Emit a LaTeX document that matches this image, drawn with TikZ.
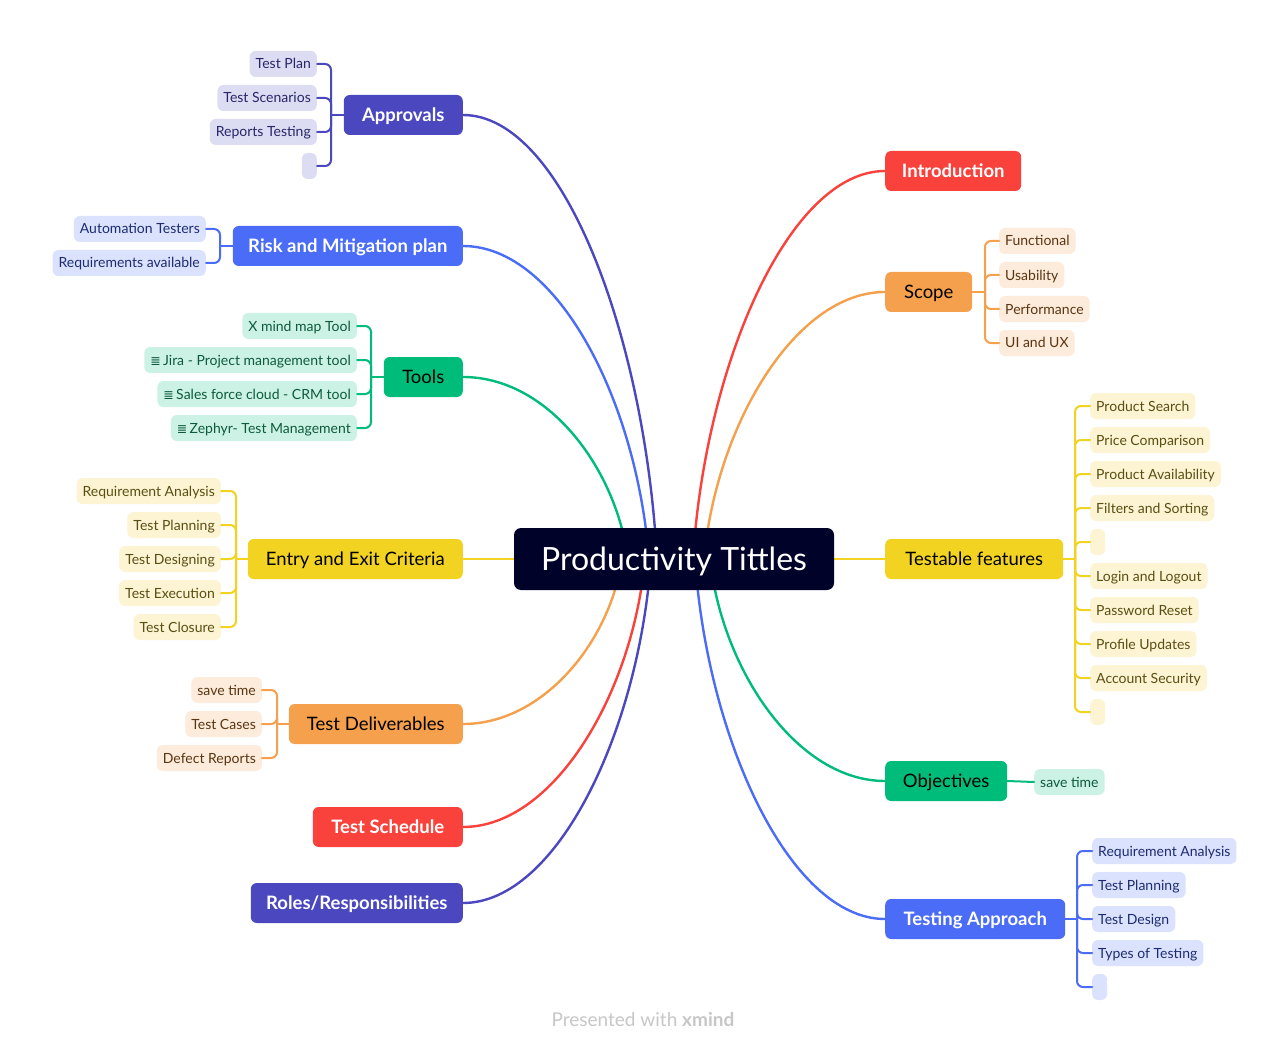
\documentclass[tikz,border=0pt]{standalone}
\usepackage{fontspec}
\setmainfont{Lato}
\newfontfamily\symfont{DejaVu Sans}
\usetikzlibrary{positioning,backgrounds}
\definecolor{cIndigo}{HTML}{4B48BF}
\definecolor{cBlue}{HTML}{4A6CF7}
\definecolor{cGreen}{HTML}{00BC7B}
\definecolor{cYellow}{HTML}{F2D322}
\definecolor{cOrange}{HTML}{F5A04C}
\definecolor{cRed}{HTML}{FA423C}
\definecolor{cCentral}{HTML}{000229}
\definecolor{indigoL}{HTML}{DCDCF2}
\definecolor{blueL}{HTML}{DBE2FD}
\definecolor{greenL}{HTML}{CCF2E5}
\definecolor{yellowL}{HTML}{FCF4D2}
\definecolor{orangeL}{HTML}{FDEBDB}
\definecolor{indigoD}{HTML}{27266A}
\definecolor{blueD}{HTML}{1D2C72}
\definecolor{greenD}{HTML}{0D5A3D}
\definecolor{yellowD}{HTML}{5B4E14}
\definecolor{orangeD}{HTML}{5A3612}
\newcommand\eqlist{{\symfont\fontsize{12.5}{12}\selectfont ≣}\,}
\begin{document}
\begin{tikzpicture}[x=1pt, y=-1pt, line join=round, line cap=round,
    topic/.style={rounded corners=6, minimum height=40, inner xsep=8, inner ysep=0,
      text height=13.3, text depth=0, font=\fontsize{18.5}{20}\selectfont},
    darktopic/.style={topic, text=black},
    whitetopic/.style={topic, text=white, font=\fontsize{18.5}{20}\selectfont\bfseries},
    leaf/.style={rounded corners=6, minimum height=26, minimum width=15, inner xsep=6, inner ysep=0,
      text height=10, text depth=0, font=\fontsize{14}{16}\selectfont},
    lIndigo/.style={leaf, fill=indigoL, text=indigoD},
    lBlue/.style={leaf, fill=blueL, text=blueD},
    lGreen/.style={leaf, fill=greenL, text=greenD},
    lYellow/.style={leaf, fill=yellowL, text=yellowD},
    lOrange/.style={leaf, fill=orangeL, text=orangeD},
    curve/.style={line width=2.4},
    brace/.style={line width=2, rounded corners=6}]
  \useasboundingbox (0,0) rectangle (1286,1051);

  \node[fill=cCentral, text=white, rounded corners=7, minimum width=320, minimum height=62,
        text height=23, text depth=0, font=\fontsize{32}{36}\selectfont] (cen) at (674,559) {Productivity Tittles};

  % left side
  \node[whitetopic, fill=cIndigo, anchor=east, minimum width=119] (app) at (463,115) {Approvals};
  \node[whitetopic, fill=cBlue, anchor=east, minimum width=230] (risk) at (463,246) {Risk and Mitigation plan};
  \node[darktopic, fill=cGreen, anchor=east, minimum width=79] (tools) at (463,377) {Tools};
  \node[darktopic, fill=cYellow, anchor=east, minimum width=215] (entry) at (463,559) {Entry and Exit Criteria};
  \node[darktopic, fill=cOrange, anchor=east, minimum width=174] (deliv) at (463,724) {Test Deliverables};
  \node[whitetopic, fill=cRed, anchor=east, minimum width=150] (sched) at (463,827) {Test Schedule};
  \node[whitetopic, fill=cIndigo, anchor=east, minimum width=212] (roles) at (463,903) {Roles/Responsibilities};

  % right side
  \node[whitetopic, fill=cRed, anchor=west, minimum width=136] (intro) at (885,171) {Introduction};
  \node[darktopic, fill=cOrange, anchor=west, minimum width=87] (scope) at (885,292) {Scope};
  \node[darktopic, fill=cYellow, anchor=west, minimum width=178] (feat) at (885,559) {Testable features};
  \node[darktopic, fill=cGreen, anchor=west, minimum width=122] (obj) at (885,781) {Objectives};
  \node[whitetopic, fill=cBlue, anchor=west, minimum width=180] (appr) at (885,919) {Testing Approach};

  % leaves
  \foreach \t [count=\i] in {Test Plan, Test Scenarios, Reports Testing, {}}
    \node[lIndigo, anchor=east] (ap\i) at (317,{30+34*\i}) {\t};
  \foreach \t [count=\i] in {Automation Testers, Requirements available}
    \node[lBlue, anchor=east] (ri\i) at (206,{195+34*\i}) {\t};
  \foreach \t [count=\i] in {X mind map Tool, \eqlist Jira - Project management tool,
      \eqlist Sales force cloud - CRM tool, \eqlist Zephyr- Test Management}
    \node[lGreen, anchor=east] (to\i) at (357,{292+34*\i}) {\t};
  \foreach \t [count=\i] in {Requirement Analysis, Test Planning, Test Designing, Test Execution, Test Closure}
    \node[lYellow, anchor=east] (en\i) at (221,{457+34*\i}) {\t};
  \foreach \t [count=\i] in {save time, Test Cases, Defect Reports}
    \node[lOrange, anchor=east] (de\i) at (262,{656+34*\i}) {\t};
  \foreach \t [count=\i] in {Functional, Usability, Performance, UI and UX}
    \node[lOrange, anchor=west] (sc\i) at (999,{207+34*\i}) {\t};
  \foreach \t [count=\i] in {Product Search, Price Comparison, Product Availability, Filters and Sorting, {},
      Login and Logout, Password Reset, Profile Updates, Account Security, {}}
    \node[lYellow, anchor=west] (fe\i) at (1090,{372+34*\i}) {\t};
  \node[lGreen, anchor=west] (ob1) at (1034,782) {save time};
  \foreach \t [count=\i] in {Requirement Analysis, Test Planning, Test Design, Types of Testing, {}}
    \node[lBlue, anchor=west] (ta\i) at (1092,{817+34*\i}) {\t};

  \node[text=black!22, font=\fontsize{19}{22}\selectfont] (foot) at (643,1020) {Presented with \textbf{xmind}};

  % spines
  \coordinate (apS) at (331,115);
  \coordinate (riS) at (220,246);
  \coordinate (toS) at (371,377);
  \coordinate (enS) at (236,559);
  \coordinate (deS) at (277,724);
  \coordinate (scS) at (985,292);
  \coordinate (feS) at (1075,559);
  \coordinate (taS) at (1077,919);

  % ends inside the central topic
  \coordinate (eApp) at (657,559);
  \coordinate (eRisk) at (649,559);
  \coordinate (eTools) at (628,559);
  \coordinate (eDeliv) at (622,559);
  \coordinate (eSched) at (645,559);
  \coordinate (eRoles) at (651,559);
  \coordinate (eIntro) at (693,559);
  \coordinate (eScope) at (704,559);
  \coordinate (eObj) at (710,559);
  \coordinate (eAppr) at (695,559);

  \begin{scope}[on background layer]
    \fill[white] (0,0) rectangle (1286,1051);
    \draw[curve, cIndigo] (app.east) .. controls +(100,0) and +(-12,-222) .. (eApp);
    \draw[curve, cBlue] (risk.east) .. controls +(95,0) and +(-12,-157) .. (eRisk);
    \draw[curve, cGreen] (tools.east) .. controls +(85,0) and +(-12,-91) .. (eTools);
    \draw[curve, cYellow] (entry.east) -- (cen.west);
    \draw[curve, cOrange] (deliv.east) .. controls +(80,0) and +(-12,83) .. (eDeliv);
    \draw[curve, cRed] (sched.east) .. controls +(91,0) and +(-12,134) .. (eSched);
    \draw[curve, cIndigo] (roles.east) .. controls +(94,0) and +(-12,172) .. (eRoles);
    \draw[curve, cRed] (intro.west) .. controls +(-96,0) and +(12,-194) .. (eIntro);
    \draw[curve, cOrange] (scope.west) .. controls +(-90,0) and +(12,-133) .. (eScope);
    \draw[curve, cYellow] (cen.east) -- (feat.west);
    \draw[curve, cGreen] (obj.west) .. controls +(-88,0) and +(12,111) .. (eObj);
    \draw[curve, cBlue] (appr.west) .. controls +(-95,0) and +(12,180) .. (eAppr);
  \end{scope}

  \draw[brace, cIndigo] (app.west) -- (apS);
  \foreach \i in {1,...,4} \draw[brace, cIndigo] (apS) |- (ap\i.east);
  \draw[brace, cBlue] (risk.west) -- (riS);
  \foreach \i in {1,2} \draw[brace, cBlue] (riS) |- (ri\i.east);
  \draw[brace, cGreen] (tools.west) -- (toS);
  \foreach \i in {1,...,4} \draw[brace, cGreen] (toS) |- (to\i.east);
  \draw[brace, cYellow] (entry.west) -- (enS);
  \foreach \i in {1,...,5} \draw[brace, cYellow] (enS) |- (en\i.east);
  \draw[brace, cOrange] (deliv.west) -- (deS);
  \foreach \i in {1,2,3} \draw[brace, cOrange] (deS) |- (de\i.east);
  \draw[brace, cOrange] (scope.east) -- (scS);
  \foreach \i in {1,...,4} \draw[brace, cOrange] (scS) |- (sc\i.west);
  \draw[brace, cYellow] (feat.east) -- (feS);
  \foreach \i in {1,...,10} \draw[brace, cYellow] (feS) |- (fe\i.west);
  \draw[brace, cGreen] (obj.east) -- (ob1.west);
  \draw[brace, cBlue] (appr.east) -- (taS);
  \foreach \i in {1,...,5} \draw[brace, cBlue] (taS) |- (ta\i.west);
\end{tikzpicture}
\end{document}
